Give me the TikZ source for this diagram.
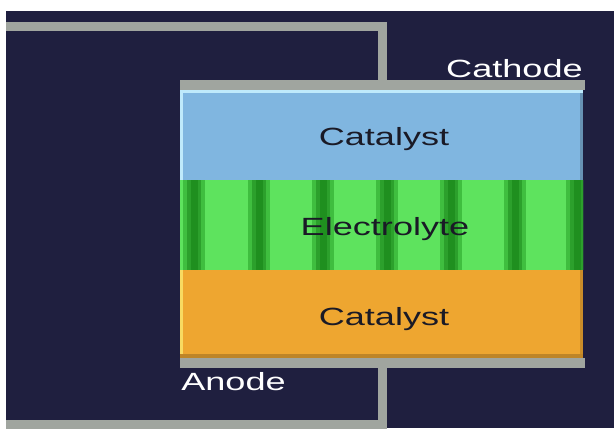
\documentclass[tikz,border=0pt]{standalone}
\usepackage{fontspec}
\setmainfont{Liberation Sans}
\definecolor{navybg}{HTML}{1F1F3F}
\definecolor{wiregrey}{HTML}{A0A59F}
\definecolor{catblue}{HTML}{80B6E0}
\definecolor{catorange}{HTML}{EEA630}
\definecolor{elgreen}{HTML}{5EE35E}
\definecolor{stripemid}{HTML}{3FBE3F}
\definecolor{stripedark}{HTML}{1F8F1F}
\definecolor{labeldark}{HTML}{1A1A26}
\tikzset{
  plate/.style={fill=wiregrey, minimum width=405bp, minimum height=10bp, inner sep=0pt, outer sep=0pt},
  layer/.style={minimum width=403bp, inner sep=0pt, outer sep=0pt},
  wire/.style={draw=wiregrey, line width=9bp},
  lbl/.style={font=\fontsize{25}{30}\selectfont, xscale=1.45, inner sep=0pt, text=labeldark},
  termlbl/.style={lbl, text=white}
}

\begin{document}
\begin{tikzpicture}[x=1bp, y=-1bp]
    \useasboundingbox (0,0) rectangle (614,428);
    \fill[white] (0,0) rectangle (614,428);
    \fill[navybg] (6,11) rectangle (614,428);

    % Plates and cell layers
    \node[plate] (cathplate) at (382.5,85) {};
    \node[layer, fill=catblue, minimum height=90bp] (topcat) at (381.5,135) {};
    \node[layer, fill=elgreen, minimum height=90bp] (elyte) at (381.5,225) {};
    \node[layer, fill=catorange, minimum height=88bp] (botcat) at (381.5,314) {};
    \node[plate] (anplate) at (382.5,363) {};

    % Shading on layer edges
    \fill[cyan!25!white] (180,90) rectangle (583,93);
    \fill[cyan!25!white] (180,90) rectangle (183,180);
    \fill[catblue!80!black] (580,93) rectangle (583,180);
    \fill[catorange!80!black] (180,354) rectangle (583,358);
    \fill[catorange!60!yellow!70!white] (180,270) rectangle (183,354);
    \fill[catorange!85!black] (580,270) rectangle (583,354);

    % Stripes in the electrolyte
    \begin{scope}
      \clip (elyte.north west) rectangle (elyte.south east);
      \foreach \sx in {187,252,316,380,444,508,570} {
        \fill[stripemid] (\sx-4,180) rectangle (\sx+18,270);
        \fill[stripedark!80!elgreen] (\sx,180) rectangle (\sx+14,270);
        \fill[stripedark] (\sx+4,180) rectangle (\sx+11,270);
      }
    \end{scope}

    % Wires
    \coordinate (topend) at (6,26);
    \coordinate (botend) at (6,424);
    \draw[wire] (cathplate.north) |- (topend);
    \draw[wire] (anplate.south) |- (botend);

    % Labels
    \node[lbl, anchor=base] (topcatlbl) at (384,145) {Catalyst};
    \node[lbl, anchor=base] (elytelbl) at (385,235) {Electrolyte};
    \node[lbl, anchor=base] (botcatlbl) at (384,325) {Catalyst};
    \node[termlbl, anchor=base east] (cathlbl) at (583,77) {Cathode};
    \node[termlbl, anchor=base west] (anlbl) at (181,390) {Anode};
\end{tikzpicture}
\end{document}
